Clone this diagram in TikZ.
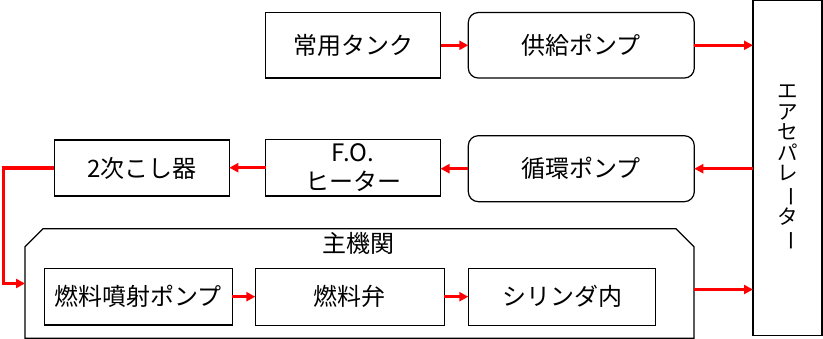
\documentclass[tikz,border=0pt]{standalone}
\usepackage{fontspec}
\usepackage{graphicx}
\newfontfamily\jp{Noto Sans CJK JP}
\usetikzlibrary{arrows.meta}
\begin{document}
\begin{tikzpicture}[x=1pt,y=-1pt,
  box/.style={draw=black, line width=1.2pt, inner sep=0pt, outer sep=0pt, anchor=center,
    font=\jp\fontsize{24}{28.5}\selectfont, align=center, text=black},
  rbox/.style={box, rounded corners=10pt},
  flow/.style={draw=red, line width=3.2pt, -{Triangle[length=9pt,width=9pt]}}
]
\useasboundingbox (0,0) rectangle (823,339);
% main engine frame (node for anchors)
\node[inner sep=0pt, outer sep=0pt, minimum width=669pt, minimum height=109.5pt] (main) at (359.5,283.5) {};
\draw[line width=1.2pt] ([yshift=-18pt]main.north west) -- ([xshift=18pt]main.north west) -- ([xshift=-18pt]main.north east) -- ([yshift=-18pt]main.north east) -- (main.south east) -- (main.south west) -- cycle;
\node[font=\jp\fontsize{24}{28}\selectfont] (mainlbl) at (358,243) {主機関};

\node[box, minimum width=175pt, minimum height=65.5pt] (tank) at (353,45.3) {常用タンク};
\node[rbox, minimum width=226pt, minimum height=65.5pt] (supply) at (581.3,45.3) {供給ポンプ};
\node[box, minimum width=69pt, minimum height=334.5pt] (sep) at (787.5,168) {};
\node[font=\jp\fontsize{20.5}{20.5}\selectfont, align=center, inner sep=0pt] (seplbl) at (787.5,168)
  {エ\\ア\\セ\\パ\\レ\\\rotatebox[origin=c]{-90}{ー}\\タ\\\rotatebox[origin=c]{-90}{ー}};
\node[rbox, minimum width=226pt, minimum height=66pt] (circ) at (581.3,168.7) {循環ポンプ};
\node[box, minimum width=175pt, minimum height=56.7pt] (heater) at (353,167.7) {F.O.\\ヒーター};
\node[box, minimum width=175pt, minimum height=56pt] (strainer) at (141.8,168) {2次こし器};
\node[box, minimum width=188pt, minimum height=56.7pt] (inj) at (138.3,296.7) {燃料噴射ポンプ};
\node[box, minimum width=189pt, minimum height=57pt] (valve) at (349.8,296.7) {燃料弁};
\node[box, minimum width=187.4pt, minimum height=57pt] (cyl) at (562,296.7) {シリンダ内};

\draw[flow] (tank.east) -- (supply.west);
\draw[flow] (supply.east) -- (supply.east -| sep.west);
\draw[flow] (sep.west |- circ.east) -- (circ.east);
\draw[flow] (circ.west) -- (circ.west -| heater.east);
\draw[flow] (heater.west) -- (heater.west -| strainer.east);
\draw[flow] (strainer.west) -- ++(-51,0) |- (main.west);
\draw[flow] (inj.east) -- (valve.west);
\draw[flow] (valve.east) -- (cyl.west);
\draw[flow] ([yshift=-6pt]main.east) -- ([yshift=-6pt]main.east -| sep.west);
\end{tikzpicture}
\end{document}
